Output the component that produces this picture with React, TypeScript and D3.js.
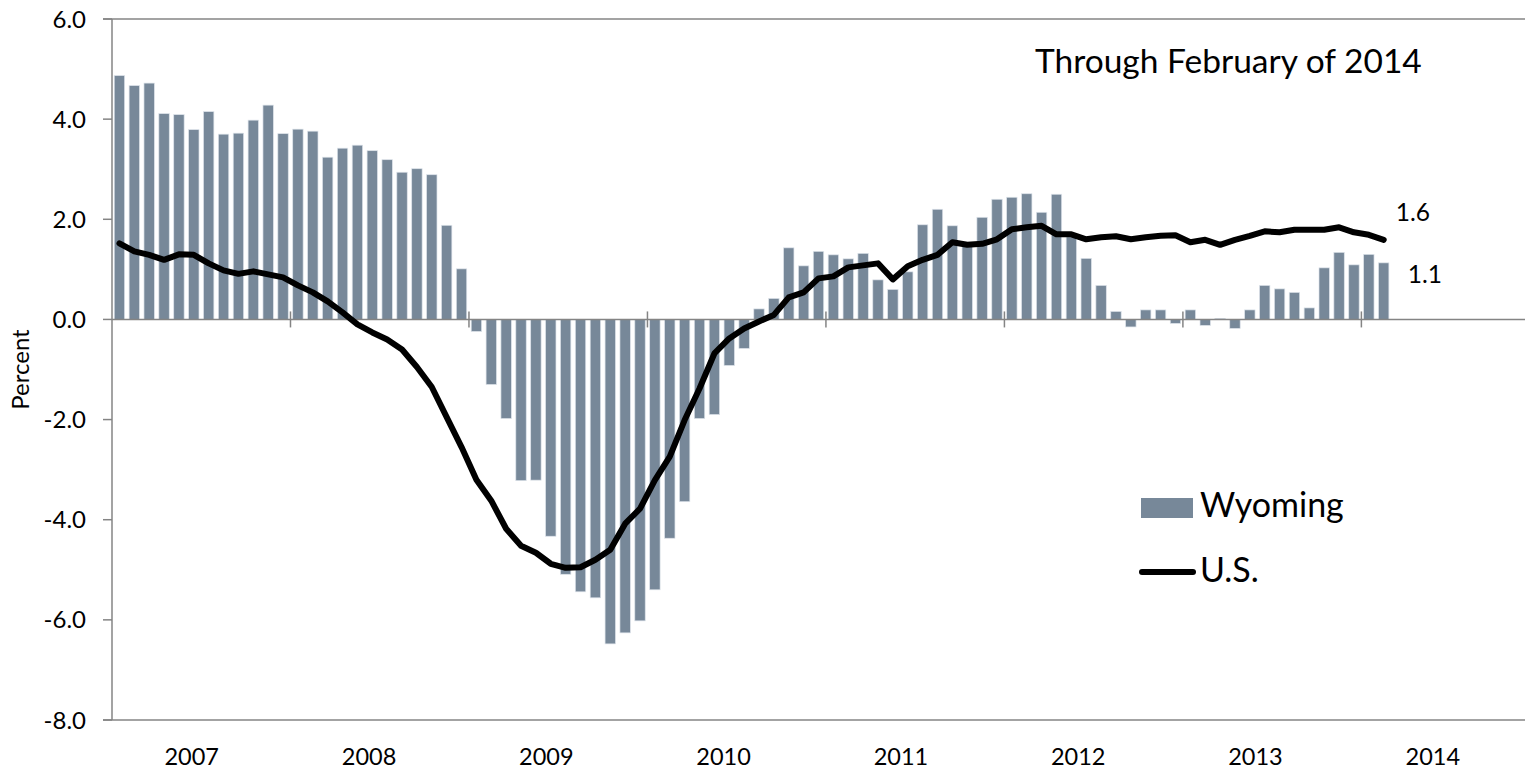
import React, { useEffect } from "react";
import * as d3 from "d3";

// Monthly, Jan 2007 – Feb 2014 (percent change, year over year)
const wyoming: number[] = [
  4.87, 4.67, 4.72, 4.11, 4.09, 3.79, 4.15, 3.70, 3.72, 3.98, 4.28, 3.71,
  3.80, 3.76, 3.24, 3.42, 3.48, 3.37, 3.19, 2.94, 3.01, 2.89, 1.88, 1.01,
  -0.24, -1.30, -1.98, -3.22, -3.21, -4.33, -5.09, -5.44, -5.56, -6.48, -6.26, -6.02,
  -5.40, -4.37, -3.64, -1.98, -1.90, -0.92, -0.58, 0.21, 0.42, 1.43, 1.07, 1.36,
  1.29, 1.21, 1.32, 0.79, 0.60, 0.95, 1.89, 2.20, 1.87, 1.50, 2.04, 2.40,
  2.44, 2.51, 2.14, 2.50, 1.65, 1.22, 0.68, 0.16, -0.15, 0.19, 0.19, -0.08,
  0.19, -0.12, 0.02, -0.18, 0.19, 0.68, 0.61, 0.54, 0.23, 1.03, 1.34, 1.09,
  1.30, 1.13,
];

const us: number[] = [
  1.52, 1.36, 1.29, 1.19, 1.30, 1.29, 1.12, 0.98, 0.91, 0.96, 0.90, 0.84,
  0.68, 0.54, 0.36, 0.14, -0.10, -0.26, -0.40, -0.60, -0.95, -1.35, -1.95, -2.55,
  -3.20, -3.62, -4.18, -4.52, -4.66, -4.88, -4.96, -4.95, -4.80, -4.60, -4.08, -3.78,
  -3.21, -2.74, -2.01, -1.38, -0.68, -0.38, -0.18, -0.04, 0.09, 0.44, 0.54, 0.82,
  0.86, 1.04, 1.08, 1.12, 0.80, 1.06, 1.19, 1.29, 1.54, 1.49, 1.51, 1.60,
  1.80, 1.84, 1.87, 1.70, 1.70, 1.60, 1.64, 1.66, 1.60, 1.64, 1.67, 1.68,
  1.54, 1.59, 1.49, 1.59, 1.67, 1.76, 1.74, 1.79, 1.79, 1.79, 1.84, 1.74,
  1.69, 1.59,
];

const yearLabels: string[] = ["2007", "2008", "2009", "2010", "2011", "2012", "2013", "2014"];
const yTicks: number[] = [6, 4, 2, 0, -2, -4, -6, -8];
const nCategories = 95; // Jan 2007 .. Nov 2014 slots on the category axis
const titleText = "Through February of 2014";
const seriesNames = ["Wyoming", "U.S."];

const FONT = "Lato, 'Open Sans', 'DejaVu Sans', sans-serif";
const BAR = "#778899";
const AXIS = "#848484";

export default function App() {
  useEffect(() => {
    document.body.style.margin = "0";
  }, []);

  const W = 1533;
  const H = 770;
  const left = 112;
  const right = 1525;
  const top = 19;
  const bottom = 720;

  const x = d3
    .scaleBand<number>()
    .domain(d3.range(nCategories))
    .range([left, right])
    .paddingInner(0.3)
    .paddingOuter(0.15);
  const xm = d3.scaleLinear().domain([0, nCategories]).range([left, right]);
  const y = d3.scaleLinear().domain([-8, 6]).range([bottom, top]);
  const cx = (i: number) => (x(i) as number) + x.bandwidth() / 2;

  const linePath = d3
    .line<number>()
    .x((_, i) => cx(i))
    .y((d) => y(d))(us) as string;

  const yearTicks = d3.range(12, nCategories, 12);
  const last = wyoming.length - 1;

  return (
    <svg width={W} height={H} style={{ display: "block", background: "#fff" }} fontFamily={FONT}>
      {/* top and bottom frame lines */}
      <line x1={103} x2={right} y1={y(6)} y2={y(6)} stroke={AXIS} strokeWidth={1.5} />
      <line x1={103} x2={right} y1={y(-8)} y2={y(-8)} stroke={AXIS} strokeWidth={1.5} />

      {/* bars */}
      {wyoming.map((v, i) => (
        <rect
          key={i}
          x={x(i)}
          width={x.bandwidth()}
          y={y(Math.max(0, v))}
          height={Math.abs(y(v) - y(0))}
          fill={BAR}
          stroke="#dde3ea"
          strokeWidth={0.7}
        />
      ))}

      {/* y axis */}
      <line x1={left} x2={left} y1={y(6)} y2={y(-8)} stroke={AXIS} strokeWidth={1.5} />
      {yTicks.map((t) => (
        <g key={t}>
          <line x1={103} x2={left} y1={y(t)} y2={y(t)} stroke={AXIS} strokeWidth={1.5} />
          <text x={86} y={y(t)} dy="0.36em" textAnchor="end" fontSize={24} fill="#000">
            {t.toFixed(1)}
          </text>
        </g>
      ))}

      {/* x axis at zero */}
      <line x1={left} x2={right} y1={y(0)} y2={y(0)} stroke={AXIS} strokeWidth={1.5} />
      {yearTicks.map((m) => (
        <line key={m} x1={xm(m)} x2={xm(m)} y1={y(0) - 8} y2={y(0) + 8} stroke={AXIS} strokeWidth={1.5} />
      ))}
      {yearLabels.map((t, k) => (
        <text key={t} x={xm(5.36 + 11.92 * k)} y={765} textAnchor="middle" fontSize={23.5} fill="#000">
          {t}
        </text>
      ))}

      {/* US line */}
      <path d={linePath} fill="none" stroke="#000" strokeWidth={6} strokeLinejoin="round" strokeLinecap="round" />

      {/* end labels */}
      <text x={cx(last) + 12} y={y(us[last]) - 19} fontSize={24.5} fill="#000">
        {us[last].toFixed(1)}
      </text>
      <text x={cx(last) + 24} y={y(wyoming[last]) + 20} fontSize={24.5} fill="#000">
        {wyoming[last].toFixed(1)}
      </text>

      {/* title */}
      <text x={1035} y={72.5} fontSize={33.5} fill="#000">
        {titleText}
      </text>

      {/* axis title */}
      <text
        transform={`translate(29,${(top + bottom) / 2}) rotate(-90)`}
        textAnchor="middle"
        fontSize={24}
        fill="#000"
      >
        Percent
      </text>

      {/* legend */}
      <rect x={1141} y={498} width={52} height={20} fill={BAR} />
      <text x={1200} y={517} fontSize={34} fill="#000">
        {seriesNames[0]}
      </text>
      <line x1={1142} x2={1193} y1={572} y2={572} stroke="#000" strokeWidth={6} strokeLinecap="round" />
      <text x={1200} y={582} fontSize={34} fill="#000">
        {seriesNames[1]}
      </text>
    </svg>
  );
}
